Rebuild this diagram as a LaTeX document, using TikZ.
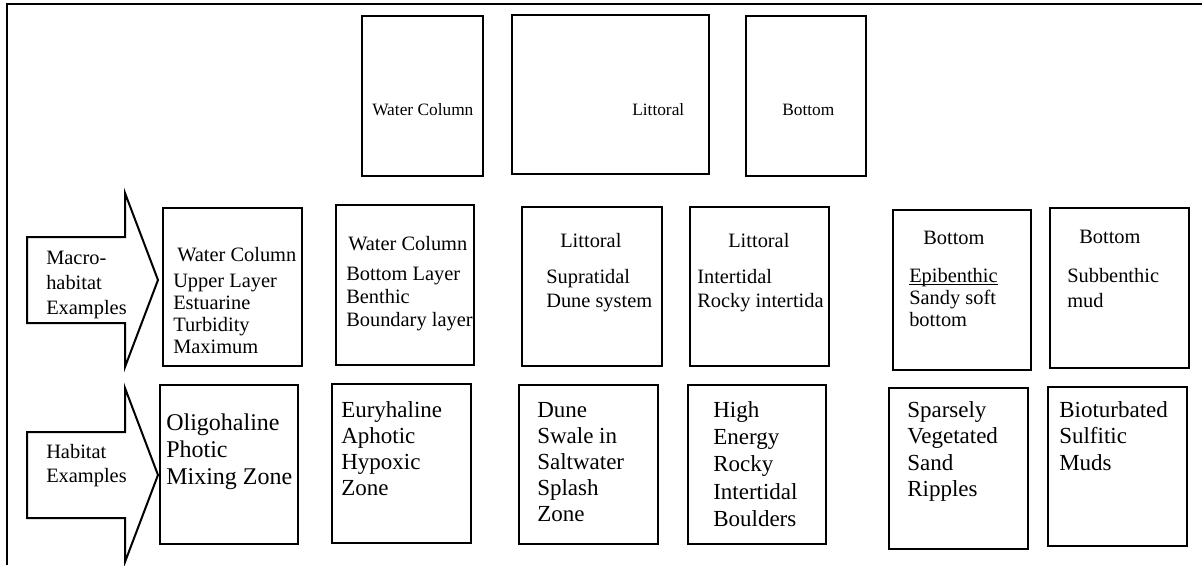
\documentclass[tikz,border=0pt]{standalone}
\usepackage{fontspec}
\setmainfont{Liberation Serif}
\usetikzlibrary{fit}
% left-aligned lines whose baseline is that of the first line
\newcommand\toplines[1]{\vtop{\halign{##\hfil\cr#1\crcr}}}
\begin{document}
\begin{tikzpicture}[x=0.75pt,y=-0.75pt,
  box/.style={draw,line width=2.2pt,inner sep=0pt},
  framestroke/.style={line width=1.6pt},
  blockarrow/.style={draw,line width=1.5pt,line join=miter},
  txt/.style={inner sep=0pt,anchor=base west},
  toptext/.style={txt,font=\fontsize{13pt}{15pt}\selectfont},
  head/.style={txt,font=\fontsize{15.3pt}{17pt}\selectfont},
  body/.style={txt,font=\fontsize{15.3pt}{#1}\selectfont},
  body/.default=16.5pt,
  habtext/.style={txt,font=\fontsize{17.25pt}{#1}\selectfont},
  habtext/.default=19.5pt,
  side/.style={txt,font=\fontsize{15.3pt}{#1}\selectfont},
  side/.default=18pt]
\useasboundingbox (0,0) rectangle (1202,565);

% outer frame (top and left edges)
\coordinate (frameTL) at (7,4);
\coordinate (frameTR) at (1202,4);
\coordinate (frameBL) at (7,565);
\draw[framestroke] (frameTR) -- (frameTL) -- (frameBL);

% top level categories
\node[box,fit={(362,16) (483,176)}] (catWC) {};
\node[box,fit={(512,15) (709,174)}] (catLit) {};
\node[box,fit={(746,16) (866,176)}] (catBot) {};
\node[toptext] (catWCt) at (372,115) {Water Column};
\node[toptext] (catLitt) at (632,115) {Littoral};
\node[toptext] (catBott) at (782,115) {Bottom};

% block arrows on the left
\draw[blockarrow] (27,237) -- (125,237) -- (125,193) -- (158,280)
  -- (125,367) -- (125,323) -- (27,323) -- cycle;
\node[side=18.75pt] (macroLbl) at (46,264) {\toplines{Macro-\cr habitat\cr Examples}};
\draw[blockarrow] (27,432) -- (125,432) -- (125,388) -- (158,475)
  -- (125,562) -- (125,518) -- (27,518) -- cycle;
\node[side=18pt] (habLbl) at (46,458) {\toplines{Habitat\cr Examples}};

% macrohabitat examples
\node[box,fit={(163,208) (302,366)}] (m1) {};
\node[box,fit={(336,205) (474,365)}] (m2) {};
\node[box,fit={(522,207) (662,366)}] (m3) {};
\node[box,fit={(690,207) (829,366)}] (m4) {};
\node[box,fit={(893,210) (1031,370)}] (m5) {};
\node[box,fit={(1050,208) (1189,368)}] (m6) {};

\node[head] (m1h) at (177,261) {Water Column};
\node[body=16.5pt] (m1b) at (173,287) {\toplines{Upper Layer\cr Estuarine\cr Turbidity\cr Maximum}};
\node[head] (m2h) at (348,250) {Water Column};
\node[body=17.6pt] (m2b) at (346,280) {\toplines{Bottom Layer\cr Benthic\cr Boundary layer}};
\node[head] (m3h) at (560,247) {Littoral};
\node[body=18pt] (m3b) at (546,283) {\toplines{Supratidal\cr Dune system}};
\node[head] (m4h) at (728,247) {Littoral};
\node[body=18pt] (m4b) at (697,283) {\toplines{Intertidal\cr Rocky intertida}};
\node[head] (m5h) at (923,244) {Bottom};
\node[txt,font=\fontsize{15.3pt}{16.5pt}\selectfont] (epi) at (909,282) {Epibenthic};
\draw[line width=0.8pt] ([yshift=-1.6pt]epi.base west) -- ([yshift=-1.6pt]epi.base east);
\node[body=16.5pt] (m5b) at (909,304) {\toplines{Sandy soft\cr bottom}};
\node[head] (m6h) at (1079,243) {Bottom};
\node[body=18.75pt] (m6b) at (1067,282) {\toplines{Subbenthic\cr mud}};

% habitat examples
\node[box,fit={(160,385) (298,544)}] (h1) {};
\node[box,fit={(332,384) (471,543)}] (h2) {};
\node[box,fit={(519,385) (658,544)}] (h3) {};
\node[box,fit={(688,385) (826,544)}] (h4) {};
\node[box,fit={(889,388) (1028,549)}] (h5) {};
\node[box,fit={(1048,387) (1187,546)}] (h6) {};

\node[txt,font=\fontsize{18pt}{20.6pt}\selectfont] (h1t) at (166,430) {\toplines{Oligohaline\cr Photic\cr Mixing Zone}};
\node[habtext=19.5pt] (h2t) at (341,417) {\toplines{Euryhaline\cr Aphotic\cr Hypoxic\cr Zone}};
\node[habtext=19.5pt] (h3t) at (537,417) {\toplines{Dune\cr Swale in\cr Saltwater\cr Splash\cr Zone}};
\node[habtext=20.6pt] (h4t) at (713,417) {\toplines{High\cr Energy\cr Rocky\cr Intertidal\cr Boulders}};
\node[habtext=19.9pt] (h5t) at (907,417) {\toplines{Sparsely\cr Vegetated\cr Sand\cr Ripples}};
\node[habtext=19.9pt] (h6t) at (1059,417) {\toplines{Bioturbated\cr Sulfitic\cr Muds}};
\end{tikzpicture}
\end{document}
